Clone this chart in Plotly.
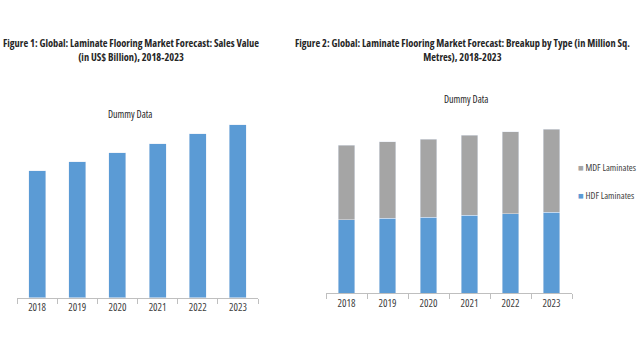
import plotly.graph_objects as go

years = ["2018", "2019", "2020", "2021", "2022", "2023"]
sales_value = [12.7, 13.6, 14.5, 15.4, 16.4, 17.3]
hdf_laminates = [73.6, 75.0, 76.3, 78.3, 79.6, 81.0]
mdf_laminates = [74.7, 76.6, 78.0, 79.7, 82.0, 83.3]
series_names = ["HDF Laminates", "MDF Laminates"]

title1 = "Figure 1: Global: Laminate Flooring Market Forecast: Sales Value<br>(in US$ Billion), 2018-2023"
title2 = "Figure 2: Global: Laminate Flooring Market Forecast: Breakup by Type (in Million Sq.<br>Metres), 2018-2023"
subtitle = "Dummy Data"

BLUE = "#5B9BD5"
GRAY = "#A5A5A5"
TXT = "#262626"
FONT = "Open Sans, sans-serif"
W, H = 640, 360


def px(x):
    return x / W


def py(y):
    return 1 - y / H


def cond(s):
    return "<span style='font-stretch:condensed'>%s</span>" % s


fig = go.Figure()
fig.add_trace(go.Bar(x=years, y=sales_value, marker_color=BLUE, width=0.42,
                     xaxis="x", yaxis="y", showlegend=False))
fig.add_trace(go.Bar(x=years, y=hdf_laminates, name=series_names[0], marker_color=BLUE,
                     width=0.41, xaxis="x2", yaxis="y2", showlegend=False))
fig.add_trace(go.Bar(x=years, y=mdf_laminates, name=series_names[1], marker_color=GRAY,
                     width=0.41, xaxis="x2", yaxis="y2", showlegend=False))

xax = dict(showline=True, linecolor="#BFBFBF", linewidth=1, ticks="outside",
           tickson="boundaries", ticklen=5, tickcolor="#BFBFBF", showgrid=False,
           tickvals=years, ticktext=[cond(y) for y in years],
           tickfont=dict(family=FONT, size=10.5, color="#404040"), fixedrange=True)
yax = dict(visible=False, showgrid=False, zeroline=False, fixedrange=True)

fig.update_layout(
    width=W, height=H, margin=dict(l=0, r=0, t=0, b=0),
    paper_bgcolor="white", plot_bgcolor="white", barmode="stack",
    font=dict(family=FONT, color=TXT),
    xaxis=dict(domain=[px(17), px(258)], anchor="y", **xax),
    yaxis=dict(domain=[py(297.7), py(97.7)], range=[0, 20], anchor="x", **yax),
    xaxis2=dict(domain=[px(326), px(572)], anchor="y2", **xax),
    yaxis2=dict(domain=[py(293.3), py(93.3)], range=[0, 200], anchor="x2", **yax),
)

ann = [
    dict(text="<b>" + title1 + "</b>", x=131, y=50, font=dict(size=10.4, color=TXT)),
    dict(text="<b>" + title2 + "</b>", x=462, y=50, font=dict(size=10.4, color=TXT)),
    dict(text=subtitle, x=130, y=114, font=dict(size=10, color=TXT)),
    dict(text=subtitle, x=466, y=99, font=dict(size=10, color=TXT)),
    dict(text="<span style='color:%s'>■</span> %s" % (GRAY, series_names[1]),
         x=576, y=167, xanchor="left", font=dict(size=9.5, color="#404040")),
    dict(text="<span style='color:%s'>■</span> %s" % (BLUE, series_names[0]),
         x=576, y=195, xanchor="left", font=dict(size=9.5, color="#404040")),
]
for a in ann:
    a.setdefault("xanchor", "center")
    fig.add_annotation(text=cond(a["text"]), x=px(a["x"]), y=py(a["y"]),
                       xref="paper", yref="paper", xanchor=a["xanchor"], yanchor="middle",
                       showarrow=False, font=dict(family=FONT, **a["font"]), align="center")

fig.write_html("out.html", config={"displayModeBar": False},
               post_script="document.body.style.margin='0';")
